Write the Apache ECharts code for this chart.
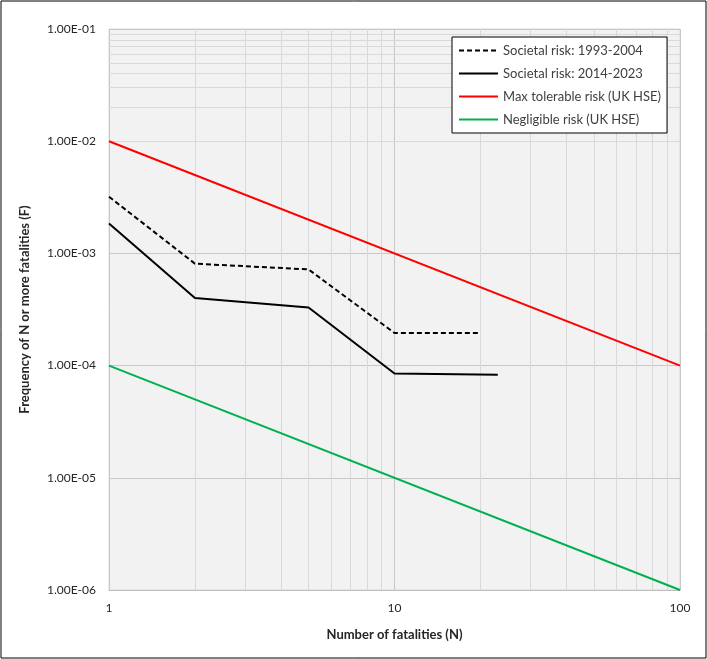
<!DOCTYPE html>
<html>
<head>
<meta charset="utf-8">
<script src="https://cdn.jsdelivr.net/npm/echarts@6/dist/echarts.min.js"></script>
<style>
  html, body { margin: 0; padding: 0; background: #fff; }
  #chart { width: 707px; height: 659px; }
</style>
</head>
<body>
<div id="chart"></div>
<script>
// N values (number of fatalities) and F values (frequency of N or more)
const societal9304N = [1, 2, 5, 10, 20];
const societal9304F = [3.2e-3, 8.1e-4, 7.2e-4, 1.95e-4, 1.95e-4];
const societal1423N = [1, 2, 5, 10, 23];
const societal1423F = [1.85e-3, 4.0e-4, 3.3e-4, 8.5e-5, 8.3e-5];
const maxTolerableN = [1, 100];
const maxTolerableF = [1e-2, 1e-4];
const negligibleN = [1, 100];
const negligibleF = [1e-4, 1e-6];

const seriesNames = [
  'Societal risk: 1993-2004',
  'Societal risk: 2014-2023',
  'Max tolerable risk (UK HSE)',
  'Negligible risk (UK HSE)'
];

// minor grid positions (log axes)
const minorX = [2, 3, 4, 5, 6, 7, 8, 9, 20, 30, 40, 50, 60, 70, 80, 90];
const minorY = [];
for (let e = -6; e <= -2; e++) {
  for (let m = 2; m <= 9; m++) minorY.push(m * Math.pow(10, e));
}

const FONT = 'Lato';
const pairs = (xs, ys) => xs.map((x, i) => [x, ys[i]]);

function sciLabel(v) {
  const e = Math.round(Math.log10(v));
  const m = v / Math.pow(10, e);
  const sign = e < 0 ? '-' : '+';
  const abs = Math.abs(e);
  return m.toFixed(2) + 'E' + sign + (abs < 10 ? '0' + abs : abs);
}

const chart = echarts.init(document.getElementById('chart'));

const lineSeries = (name, data, color, type) => ({
  name,
  type: 'line',
  data,
  symbol: 'none',
  z: 5,
  lineStyle: { color, width: 2, type: type || 'solid' },
  itemStyle: { color },
  emphasis: { disabled: true }
});

chart.setOption({
  animation: false,
  textStyle: { fontFamily: FONT },
  graphic: [
    {
      type: 'rect',
      shape: { x: 1, y: 1, width: 705, height: 657 },
      style: { fill: 'none', stroke: '#000', lineWidth: 1 },
      silent: true
    }
  ],
  grid: {
    left: 109,
    right: 27,
    top: 29,
    bottom: 69,
    show: true,
    backgroundColor: '#f2f2f2',
    borderColor: '#d9d9d9',
    borderWidth: 1
  },
  legend: {
    orient: 'vertical',
    left: 452,
    top: 37,
    z: 20,
    zlevel: 1,
    data: seriesNames,
    backgroundColor: '#fff',
    borderColor: '#000',
    borderWidth: 1,
    padding: [7, 6, 7, 6],
    itemWidth: 39,
    itemHeight: 14,
    itemGap: 10,
    itemStyle: { opacity: 0, borderWidth: 0 },
    textStyle: { fontFamily: FONT, fontSize: 13, color: '#404040' }
  },
  xAxis: {
    type: 'log',
    logBase: 10,
    min: 1,
    max: 100,
    name: 'Number of fatalities (N)',
    nameLocation: 'middle',
    nameGap: 38,
    nameTextStyle: { fontFamily: FONT, fontSize: 13, fontWeight: 'bold', color: '#262626' },
    axisLine: { show: true, lineStyle: { color: '#bfbfbf' } },
    axisTick: { show: false },
    axisLabel: { color: '#262626', fontSize: 12, margin: 12 },
    splitLine: { show: true, lineStyle: { color: '#c8c8c8', width: 1 } }
  },
  yAxis: {
    type: 'log',
    logBase: 10,
    min: 1e-6,
    max: 1e-1,
    name: 'Frequency of N or more fatalities (F)',
    nameLocation: 'middle',
    nameGap: 78,
    nameTextStyle: { fontFamily: FONT, fontSize: 13, fontWeight: 'bold', color: '#262626' },
    axisLine: { show: false },
    axisTick: { show: false },
    axisLabel: { color: '#262626', fontSize: 12, margin: 13, formatter: sciLabel },
    splitLine: { show: true, lineStyle: { color: '#c8c8c8', width: 1 } }
  },
  series: [
    {
      name: 'minor-grid',
      type: 'line',
      data: [],
      z: 1,
      silent: true,
      markLine: {
        silent: true,
        symbol: 'none',
        animation: false,
        label: { show: false },
        lineStyle: { color: '#d9d9d9', width: 1, type: 'solid' },
        emphasis: { disabled: true },
        data: minorX.map(v => ({ xAxis: v })).concat(minorY.map(v => ({ yAxis: v })))
      }
    },
    lineSeries(seriesNames[0], pairs(societal9304N, societal9304F), '#000', [5, 3]),
    lineSeries(seriesNames[1], pairs(societal1423N, societal1423F), '#000'),
    lineSeries(seriesNames[2], pairs(maxTolerableN, maxTolerableF), '#ff0000'),
    lineSeries(seriesNames[3], pairs(negligibleN, negligibleF), '#00b050')
  ]
});
</script>
</body>
</html>
